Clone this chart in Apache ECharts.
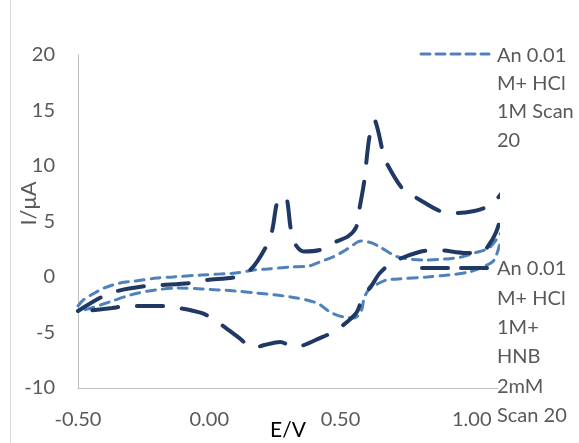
<!DOCTYPE html>
<html>
<head>
<meta charset="utf-8">
<script src="https://cdn.jsdelivr.net/npm/echarts@6/dist/echarts.min.js"></script>
<style>html,body{margin:0;padding:0;background:#fff}#c{width:579px;height:443px}</style>
</head>
<body>
<div id="c"></div>
<script>
// Series 1: An 0.01 M + HCl 1M, scan 20 (potential E/V, current I/uA)
const anE = [-0.50,-0.48,-0.45,-0.40,-0.34,-0.28,-0.20,-0.14,-0.03,0.10,0.17,0.22,0.31,0.38,0.42,0.47,0.52,0.565,0.58,0.62,0.65,0.72,0.82,0.90,0.96,1.01,1.07,1.13,
             1.115,1.085,1.05,0.99,0.91,0.83,0.72,0.675,0.648,0.61,0.59,0.58,0.553,0.51,0.46,0.41,0.31,0.18,0.10,-0.03,-0.12,-0.23,-0.30,-0.38,-0.45,-0.50];
const anI = [-2.6,-2.07,-1.62,-0.99,-0.54,-0.36,-0.09,0.0,0.18,0.36,0.63,0.72,0.90,0.99,1.35,1.80,2.43,3.15,3.24,3.06,2.70,1.80,1.53,1.62,1.80,2.16,2.70,4.68,
             3.6,1.53,0.99,0.45,0.18,0.0,-0.18,-0.27,-0.54,-1.08,-1.9,-3.0,-3.69,-3.60,-3.15,-2.34,-1.80,-1.44,-1.26,-1.08,-0.99,-1.26,-1.62,-2.25,-2.79,-3.1];

// Series 2: An 0.01 M + HCl 1M + HNB 2mM, scan 20
const hnbE = [-0.50,-0.41,-0.35,-0.24,-0.18,-0.07,-0.01,0.10,0.16,0.22,0.24,0.26,0.28,0.295,0.31,0.325,0.36,0.42,0.47,0.53,0.56,0.57,0.59,0.61,0.63,0.645,0.66,0.675,0.74,0.79,0.89,0.945,1.01,1.055,1.09,1.115,1.12,
              1.112,1.093,1.065,1.035,0.98,0.865,0.80,0.70,0.65,0.62,0.585,0.56,0.485,0.43,0.325,0.27,0.21,0.165,0.115,0.02,-0.03,-0.14,-0.20,-0.31,-0.37,-0.50];
const hnbI = [-3.06,-1.80,-1.26,-0.81,-0.72,-0.54,-0.27,0.0,0.72,2.88,4.23,6.85,7.2,7.1,4.4,3.06,2.30,2.43,3.06,3.69,4.5,5.86,8.56,12.6,14.1,13.0,11.4,10.3,7.84,7.12,5.86,5.77,5.95,6.3,6.9,7.6,7.9,
              5.6,4.05,2.88,2.16,2.16,2.43,2.25,1.35,0.36,-0.72,-1.8,-3.24,-4.77,-5.41,-6.31,-5.86,-6.13,-6.4,-5.5,-3.87,-3.24,-2.7,-2.61,-2.61,-2.79,-3.15];

const seriesNames = ['An 0.01 M+ HCl 1M Scan 20', 'An 0.01 M+ HCl 1M+ HNB 2mM Scan 20'];
const legendLines1 = ['An 0.01', 'M+ HCl', '1M Scan', '20'];
const legendLines2 = ['An 0.01', 'M+ HCl', '1M+', 'HNB', '2mM', 'Scan 20'];
const xTicks = [-0.5, 0, 0.5, 1.0];

const FONT = 'Lato';
const lightStyle = {color: '#4F81BD', width: 3, type: [9, 7], cap: 'round'};
const darkStyle = {color: '#1F3864', width: 4, type: [26, 19], cap: 'round'};

const zip = (xs, ys) => xs.map((x, i) => [x, ys[i]]);

const chart = echarts.init(document.getElementById('c'));
chart.setOption({
  animation: false,
  backgroundColor: '#fff',
  legend: {show: false},
  grid: {left: 78, right: 81, top: 55, bottom: 55, containLabel: false, outerBoundsMode: 'none'},
  xAxis: {
    type: 'value', min: -0.5, max: 1.1, interval: 0.5,
    name: 'E/V', nameLocation: 'middle', nameGap: 32, nameMoveOverlap: false,
    nameTextStyle: {fontFamily: FONT, fontSize: 21, color: '#000'},
    axisLine: {show: true, onZero: false, lineStyle: {color: '#BFBFBF', width: 1}},
    axisTick: {show: false},
    splitLine: {show: false},
    axisLabel: {
      fontFamily: FONT, fontSize: 20, color: '#595959', margin: 22,
      formatter: v => xTicks.some(t => Math.abs(t - v) < 1e-6) ? v.toFixed(2) : ''
    }
  },
  yAxis: {
    type: 'value', min: -10, max: 20, interval: 5,
    name: 'I/μA', nameLocation: 'middle', nameGap: 38, nameRotate: 90, nameMoveOverlap: false,
    nameTextStyle: {fontFamily: FONT, fontSize: 22, color: '#595959', padding: [0, 0, 0, 36]},
    axisLine: {show: true, onZero: false, lineStyle: {color: '#BFBFBF', width: 1}},
    axisTick: {show: false},
    splitLine: {show: false},
    axisLabel: {fontFamily: FONT, fontSize: 20, color: '#595959', margin: 23}
  },
  series: [
    {name: seriesNames[0], type: 'line', data: zip(anE, anI), showSymbol: false, symbol: 'none',
     smooth: 0.3, clip: false, lineStyle: lightStyle, z: 2},
    {name: seriesNames[1], type: 'line', data: zip(hnbE, hnbI), showSymbol: false, symbol: 'none',
     smooth: 0.3, clip: false, lineStyle: darkStyle, z: 3}
  ],
  graphic: [
    {type: 'line', shape: {x1: 10.5, y1: 0, x2: 10.5, y2: 443}, style: {stroke: '#D9D9D9', lineWidth: 1}, silent: true},
    {type: 'line', shape: {x1: 421, y1: 54, x2: 489, y2: 54},
     style: {stroke: lightStyle.color, lineWidth: 3, lineDash: [9, 6], lineCap: 'round'}, z: 10},
    {type: 'text', left: 497, top: 41, z: 10,
     style: {text: legendLines1.join('\n'), font: '20px ' + FONT, fill: '#595959', lineHeight: 28.3}},
    {type: 'line', shape: {x1: 422, y1: 268, x2: 487, y2: 268},
     style: {stroke: darkStyle.color, lineWidth: 4, lineDash: [26, 13], lineCap: 'round'}, z: 10},
    {type: 'text', left: 497, top: 254, z: 10,
     style: {text: legendLines2.join('\n'), font: '20px ' + FONT, fill: '#595959', lineHeight: 29.4}}
  ]
});
</script>
</body>
</html>
